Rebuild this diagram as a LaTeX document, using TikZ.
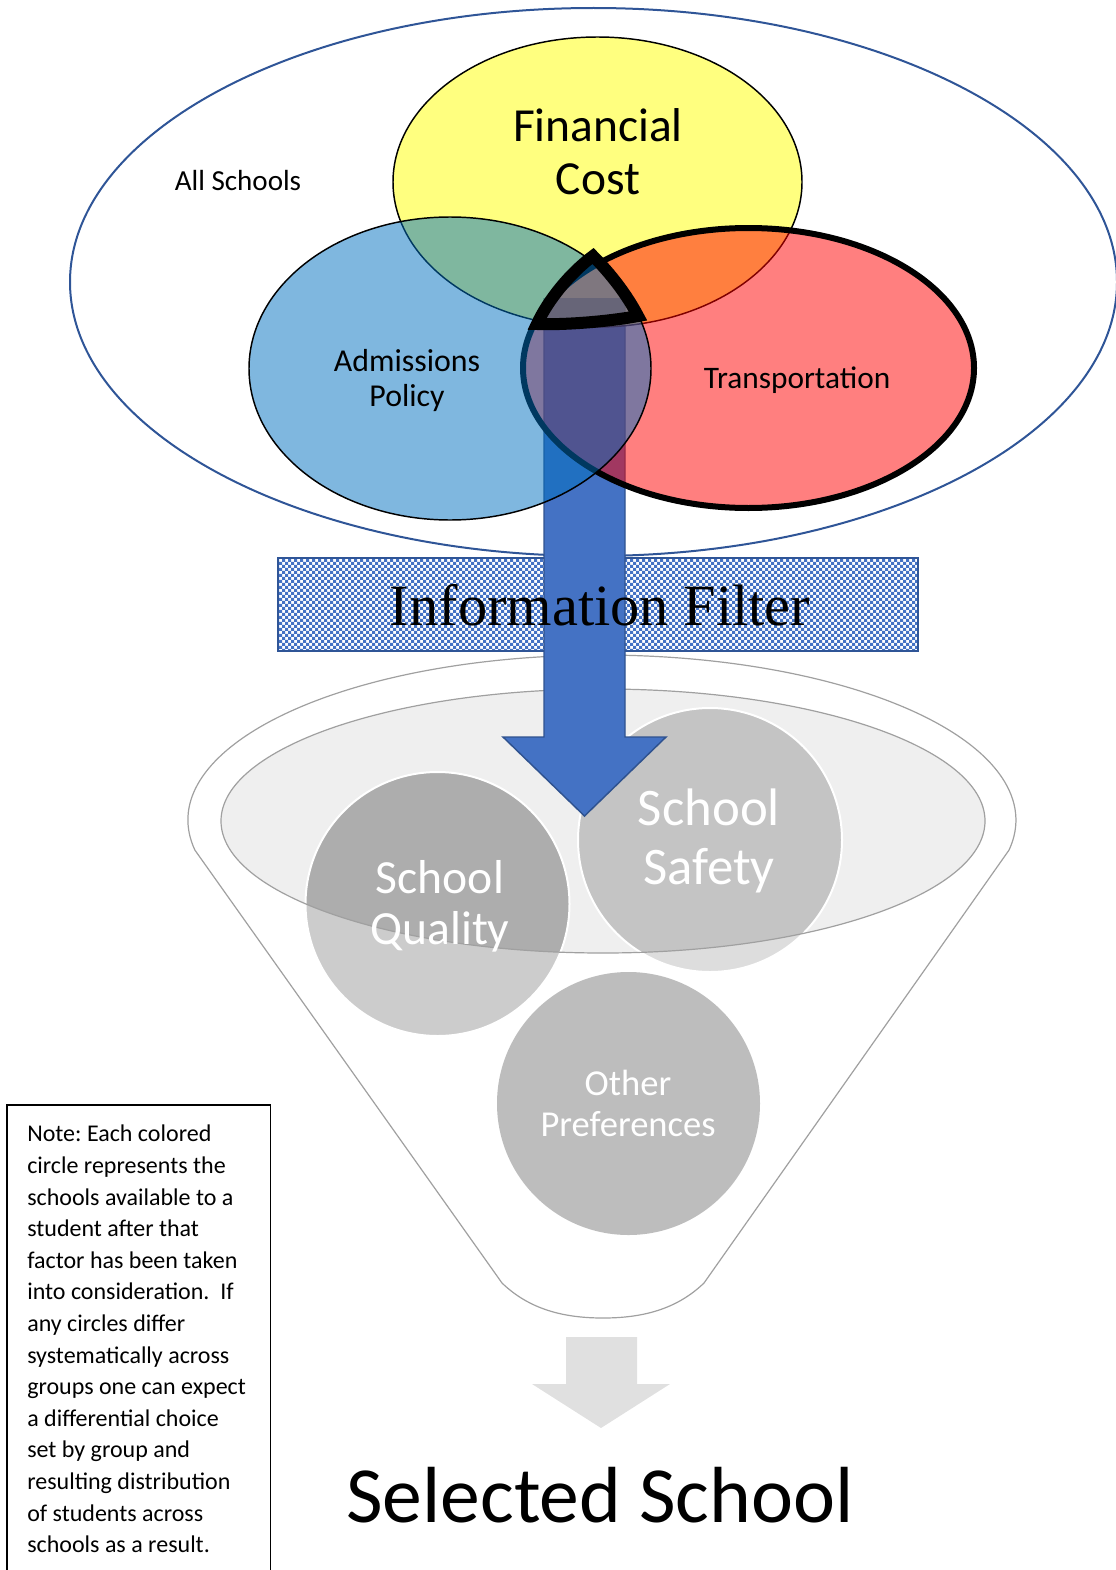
\documentclass[tikz,border=0pt]{standalone}
\usepackage{fontspec}
\setmainfont{Carlito}
\newfontfamily\serifface{Liberation Serif}
\usetikzlibrary{patterns}
\frenchspacing

\definecolor{allblue}{HTML}{2F5597}
\definecolor{arrowblue}{HTML}{4472C4}
\definecolor{arrowedge}{HTML}{2F528F}
\definecolor{venyellow}{HTML}{FFFF00}
\definecolor{venred}{HTML}{FF0000}
\definecolor{venblue}{HTML}{0070C0}
\definecolor{funnelline}{HTML}{A0A0A0}
\definecolor{rimfill}{HTML}{EFEFEF}
\definecolor{qualout}{HTML}{CCCCCC}
\definecolor{qualin}{HTML}{ADADAD}
\definecolor{safeout}{HTML}{DDDDDD}
\definecolor{safein}{HTML}{C4C4C4}
\definecolor{othfill}{HTML}{BDBDBD}
\definecolor{outarrow}{HTML}{E0E0E0}

% checkerboard for the filter band
\pgfdeclarepatternformonly{finechecker}{\pgfqpoint{-.1pt}{-.1pt}}{\pgfqpoint{4.6pt}{4.6pt}}{\pgfqpoint{4.5pt}{4.5pt}}
{
  \pgfpathrectangle{\pgfqpoint{0pt}{0pt}}{\pgfqpoint{2.3pt}{2.3pt}}
  \pgfpathrectangle{\pgfqpoint{2.25pt}{2.25pt}}{\pgfqpoint{2.3pt}{2.3pt}}
  \pgfusepath{fill}
}

\tikzset{
  lbl/.style={align=center, inner sep=0pt},
  setcircle/.style={draw=white, line width=1.5pt},
}

\begin{document}
\begin{tikzpicture}[x=0.75pt, y=-0.75pt]
\useasboundingbox (0,0) rectangle (1115,1570);

% universe of schools
\draw[allblue, line width=1.5pt] (593.5,282) ellipse [x radius=523.5, y radius=274];

% information filter band
\draw[allblue, line width=1.5pt, pattern=finechecker, pattern color=arrowblue]
  (278,558) rectangle (918,651);

% funnel body
\draw[funnelline, line width=0.9pt, fill=white]
  (194.9,850.1) arc[start angle=169.5, end angle=370.5, x radius=414, y radius=165]
  -- (704,1283) .. controls (676,1310) and (641,1318) .. (603,1318)
  .. controls (565,1318) and (530,1310) .. (502,1283) -- cycle;

% funnel mouth
\fill[rimfill] (603,821) ellipse [x radius=382, y radius=132];

% preference circles
\fill[qualout] (437.5,904) circle [radius=132];
\fill[safeout] (710,840) circle [radius=132];
\begin{scope}
  \clip (603,821) ellipse [x radius=382, y radius=132];
  \fill[qualin] (437.5,904) circle [radius=132];
  \fill[safein] (710,840) circle [radius=132];
\end{scope}
\draw[setcircle] (437.5,904) circle [radius=132];
\draw[setcircle] (710,840) circle [radius=132];
\fill[othfill] (628.5,1103.5) circle [radius=131.5];
\draw[funnelline, line width=0.9pt] (603,821) ellipse [x radius=382, y radius=132];

% filter arrow
\fill[arrowblue] (544,298) -- (625,298) -- (625,737) -- (666,737) -- (584.5,816)
  -- (503,737) -- (544,737) -- cycle;
\draw[arrowedge, line width=1.1pt, line join=miter]
  (625,298) -- (625,737) -- (666,737) -- (584.5,816) -- (503,737) -- (544,737) -- (544,298);

% choice-set ellipses
\begin{scope}[fill opacity=0.5]
  \filldraw[fill=venyellow, draw=black, line width=1.1pt] (597.5,182) ellipse [x radius=204.5, y radius=145];
  \filldraw[fill=venred, draw=black, line width=4.5pt] (748.5,368) ellipse [x radius=225.5, y radius=140];
  \filldraw[fill=venblue, draw=black, line width=1.1pt] (450,368.5) ellipse [x radius=201, y radius=151.5];
\end{scope}

% common region outline
\draw[line width=9pt, line join=miter, miter limit=6]
  (593,256) .. controls (611,274) and (627,295) .. (638,316)
  .. controls (606,322) and (562,325) .. (537,324)
  .. controls (548,300) and (570,273) .. cycle;

% outlet arrow
\fill[outarrow] (566,1337) -- (637,1337) -- (637,1384) -- (670,1384) -- (601,1428)
  -- (532,1384) -- (566,1384) -- cycle;

% labels
\node[lbl, anchor=base, font=\fontsize{21.8}{26}\selectfont] (all) at (238,190) {All Schools};
\node[lbl, font=\fontsize{35.6}{39.75}\selectfont] (fin) at (598,152) {Financial\\Cost};
\node[lbl, font=\fontsize{23.9}{26.25}\selectfont] (adm) at (407,381) {Admissions\\Policy};
\node[lbl, anchor=base, font=\fontsize{23.5}{26}\selectfont] (trn) at (797,388) {Transportation};
\node[lbl, anchor=base, font=\serifface\fontsize{43.8}{50}\selectfont] (filt) at (600,625) {Information Filter};
\node[lbl, text=white, font=\fontsize{39.6}{44}\selectfont] (safe) at (709,841) {School\\Safety};
\node[lbl, text=white, font=\fontsize{35.7}{38.5}\selectfont] (qual) at (440,906) {School\\Quality};
\node[lbl, text=white, font=\fontsize{27.4}{30.75}\selectfont] (oth) at (628,1103) {Other\\Preferences};
\node[lbl, anchor=base, font=\fontsize{59.7}{66}\selectfont] (sel) at (600,1522) {Selected School};

% note
\draw[line width=1.1pt] (7,1105) rectangle (270.5,1590);
\node[lbl, align=left, anchor=north west, font=\fontsize{18}{23.7}\selectfont] (note) at (27,1125)
  {Note: Each colored\\circle represents the\\schools available to a\\student after that\\factor has been taken\\into consideration.\ \ If\\any circles differ\\systematically across\\groups one can expect\\a differential choice\\set by group and\\resulting distribution\\of students across\\schools as a result.};
\end{tikzpicture}
\end{document}
